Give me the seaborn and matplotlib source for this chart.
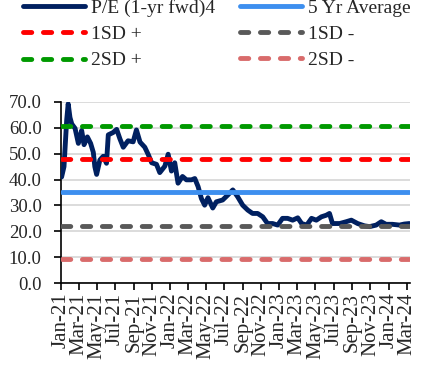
import matplotlib
matplotlib.use("Agg")
import matplotlib.pyplot as plt
import matplotlib.dates as mdates
import pandas as pd
import seaborn as sns

# Forward P/E readings (date, multiple)
pe_dates = [
    "2021-01-03", "2021-01-11", "2021-01-20", "2021-01-25", "2021-01-31", "2021-02-06",
    "2021-02-17", "2021-02-28", "2021-03-05", "2021-03-11", "2021-03-19", "2021-03-30",
    "2021-04-10", "2021-04-19", "2021-04-24", "2021-04-30", "2021-05-11", "2021-05-22",
    "2021-06-02", "2021-06-08", "2021-06-24", "2021-07-06", "2021-07-17", "2021-07-28",
    "2021-08-13", "2021-08-30", "2021-09-10", "2021-09-22", "2021-10-08", "2021-10-19",
    "2021-10-31", "2021-11-16", "2021-11-27", "2021-12-14", "2021-12-25", "2022-01-05",
    "2022-01-16", "2022-01-27", "2022-02-11", "2022-02-24", "2022-03-13", "2022-03-24",
    "2022-04-04", "2022-04-15", "2022-04-26", "2022-05-07", "2022-05-23", "2022-06-04",
    "2022-06-25", "2022-07-12", "2022-07-29", "2022-08-14", "2022-08-31", "2022-09-17",
    "2022-10-03", "2022-10-20", "2022-11-06", "2022-11-22", "2022-12-09", "2022-12-26",
    "2023-01-11", "2023-01-28", "2023-02-14", "2023-03-03", "2023-03-16", "2023-04-02",
    "2023-04-18", "2023-05-04", "2023-05-21", "2023-06-06", "2023-06-17", "2023-06-27",
    "2023-07-21", "2023-08-12", "2023-08-29", "2023-09-19", "2023-10-12", "2023-10-29",
    "2023-11-20", "2023-12-07", "2023-12-23", "2024-01-13", "2024-02-06", "2024-02-22",
    "2024-03-10",
]
pe_values = [
    41.0, 45.0, 63.0, 69.3, 64.0, 61.5,
    59.8, 54.0, 56.0, 59.0, 53.5, 56.5,
    54.0, 50.5, 45.0, 42.0, 47.6, 49.0,
    46.3, 57.3, 58.2, 59.4, 55.7, 52.5,
    55.0, 54.6, 59.2, 54.5, 52.5, 49.8,
    46.5, 45.9, 42.7, 45.2, 49.8, 43.3,
    46.5, 38.6, 41.2, 39.9, 39.9, 40.4,
    37.3, 32.7, 30.1, 33.0, 29.0, 31.4,
    32.1, 34.0, 36.0, 33.4, 30.1, 28.2,
    26.9, 26.9, 25.6, 23.0, 23.0, 22.4,
    25.0, 25.0, 24.3, 25.2, 23.0, 22.4,
    25.0, 24.3, 25.6, 26.2, 26.9, 23.0,
    23.0, 23.7, 24.3, 23.0, 22.1, 21.8,
    22.4, 23.7, 22.7, 22.7, 22.4, 22.8,
    23.0,
]

# Band levels
avg_5yr = 35.1
sd1_plus = 48.0
sd2_plus = 60.9
sd1_minus = 22.2
sd2_minus = 9.3

y_ticks = [0, 10, 20, 30, 40, 50, 60, 70]

df = pd.DataFrame({"date": pd.to_datetime(pe_dates), "pe": pe_values})
df["avg"] = avg_5yr
df["sd1p"] = sd1_plus
df["sd2p"] = sd2_plus
df["sd1m"] = sd1_minus
df["sd2m"] = sd2_minus

sns.set_theme(style="white")
plt.rcParams["font.family"] = ["Liberation Serif", "DejaVu Serif"]

fig = plt.figure(figsize=(4.22, 3.65), dpi=100)
ax = fig.add_axes([61 / 422, 82 / 365, (410 - 61) / 422, (283 - 102) / 365])

navy = "#002060"
dash = (1.7, 2.4)
lw = 3.5
sns.lineplot(data=df, x="date", y="pe", ax=ax, color=navy, lw=lw,
             label="P/E (1-yr fwd)4", zorder=3)
sns.lineplot(data=df, x="date", y="sd1p", ax=ax, color="#ff0000", lw=lw,
             label="1SD +", zorder=4)
sns.lineplot(data=df, x="date", y="sd2p", ax=ax, color="#009900", lw=lw,
             label="2SD +", zorder=4)
sns.lineplot(data=df, x="date", y="avg", ax=ax, color="#3d8fef", lw=lw,
             label="5 Yr Average", zorder=4)
sns.lineplot(data=df, x="date", y="sd1m", ax=ax, color="#595959", lw=lw,
             label="1SD -", zorder=4)
sns.lineplot(data=df, x="date", y="sd2m", ax=ax, color="#d96b6b", lw=lw,
             label="2SD -", zorder=4)

for ln in ax.get_lines():
    ln.set_solid_capstyle("round")
    ln.set_solid_joinstyle("round")
    if ln.get_label() not in ("P/E (1-yr fwd)4", "5 Yr Average"):
        ln.set_dashes(dash)
        ln.set_dash_capstyle("round")

handles, labels = ax.get_legend_handles_labels()
ax.get_legend().remove()
order = ["P/E (1-yr fwd)4", "1SD +", "2SD +", "5 Yr Average", "1SD -", "2SD -"]
hmap = dict(zip(labels, handles))
fig.legend([hmap[k] for k in order], order, ncol=2, loc="upper left",
           bbox_to_anchor=(0.035, 1.025), frameon=False, fontsize=14,
           handlelength=3.2, handletextpad=0.3, columnspacing=1.3,
           labelspacing=0.45, borderaxespad=0)

ax.set_ylim(0, 70)
ax.set_yticks(y_ticks)
ax.set_yticklabels([f"{v:.1f}" for v in y_ticks])
ax.set_xlim(pd.Timestamp("2021-01-01"), pd.Timestamp("2024-03-12"))
ax.xaxis.set_major_locator(mdates.MonthLocator(bymonth=[1, 3, 5, 7, 9, 11]))
ax.xaxis.set_major_formatter(mdates.DateFormatter("%b-%y"))
ax.set_xlabel("")
ax.set_ylabel("")
ax.yaxis.grid(True, color="#d9d9d9", lw=1.3)
ax.set_axisbelow(True)
for s in ["top", "right"]:
    ax.spines[s].set_visible(False)
for s in ["left", "bottom"]:
    ax.spines[s].set_color("black")
    ax.spines[s].set_linewidth(1.2)
ax.tick_params(axis="both", which="major", direction="out", length=5,
               width=1.2, color="black", labelsize=13.5)
ax.tick_params(axis="y", pad=9)
ax.tick_params(axis="x", labelrotation=90, pad=2, labelsize=15)
ax.tick_params(left=True, bottom=True)

fig.savefig("out.png", dpi=100)
